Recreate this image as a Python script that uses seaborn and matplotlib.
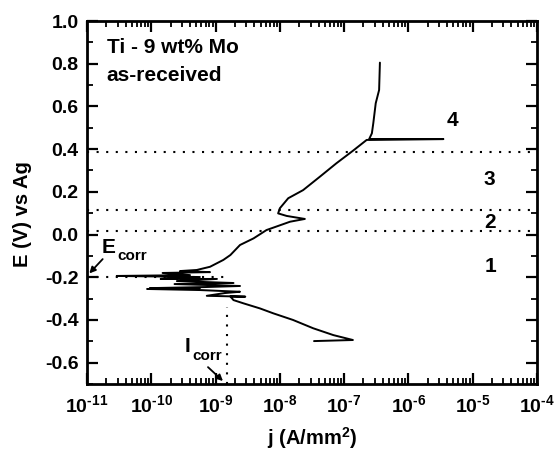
import numpy as np
import pandas as pd
import matplotlib
matplotlib.use("Agg")
import matplotlib.pyplot as plt
import seaborn as sns
from matplotlib.ticker import FixedLocator, FixedFormatter, LogLocator, MultipleLocator, NullFormatter

# ---------------- data ----------------
# polarisation curve, in scan order: current density j (A/mm^2) and potential E (V vs Ag)
j_values = [3.4e-8, 1.37e-7, 6.8e-8, 3.3e-8, 1.6e-8, 7.9e-9, 4.9e-9, 2.7e-9, 1.9e-9, 1.7e-9,
            2.9e-9, 7.3e-10, 1.4e-9, 2.4e-9, 5.7e-10, 8.6e-11, 5.7e-10, 9.5e-11, 6.8e-10, 2.4e-9,
            2.3e-10, 1.9e-9, 2.5e-10, 1.05e-9, 1.4e-10, 5.7e-10, 2.9e-11, 4.0e-10, 1.5e-10, 8.2e-10,
            2.8e-10, 5.1e-10, 8.2e-10, 1.32e-9, 1.7e-9, 2.4e-9, 3.9e-9, 6.2e-9, 1.44e-8, 2.45e-8,
            1.28e-8, 9.4e-9, 1.0e-8, 1.35e-8, 2.3e-8, 4.2e-8, 7.6e-8, 1.38e-7, 2.24e-7, 3.5e-6,
            2.45e-7, 2.7e-7, 2.84e-7, 3.1e-7, 3.5e-7, 3.6e-7]
E_values = [-0.499, -0.494, -0.471, -0.439, -0.400, -0.369, -0.346, -0.322, -0.307, -0.290,
            -0.291, -0.287, -0.274, -0.268, -0.260, -0.255, -0.251, -0.251, -0.246, -0.241,
            -0.232, -0.227, -0.218, -0.208, -0.208, -0.199, -0.194, -0.190, -0.180, -0.176,
            -0.171, -0.166, -0.151, -0.119, -0.096, -0.049, -0.018, 0.021, 0.060, 0.073,
            0.087, 0.099, 0.123, 0.170, 0.208, 0.271, 0.334, 0.393, 0.443, 0.447,
            0.447, 0.474, 0.521, 0.615, 0.677, 0.805]

region_boundaries = [0.385, 0.115, 0.015]   # V, dotted horizontal lines
region_labels = ["1", "2", "3", "4"]
E_corr = -0.198      # V
I_corr = 1.5e-9      # A/mm^2

x_tick_exponents = [-11, -10, -9, -8, -7, -6, -5, -4]
y_tick_values = [-0.6, -0.4, -0.2, 0.0, 0.2, 0.4, 0.6, 0.8, 1.0]
y_tick_labels = ["-0.6", "-0.4", "-0.2", "0.0", "0.2", "0.4", "0.6", "0.8", "1.0"]

title_lines = ["Ti - 9 wt% Mo", "as-received"]
x_label = "j (A/mm$^\\mathbf{2}$)"
y_label = "E (V) vs Ag"

# ---------------- style ----------------
sns.set_theme(style="ticks")
plt.rcParams["font.family"] = ["Liberation Sans", "DejaVu Sans"]
plt.rcParams["font.weight"] = "bold"
plt.rcParams["mathtext.fontset"] = "custom"
plt.rcParams["mathtext.rm"] = "Liberation Sans:bold"
plt.rcParams["mathtext.bf"] = "Liberation Sans:bold"
plt.rcParams["mathtext.it"] = "Liberation Sans:bold"
plt.rcParams["axes.unicode_minus"] = False
plt.rcParams["text.color"] = "black"
plt.rcParams["axes.labelcolor"] = "black"
plt.rcParams["xtick.color"] = "black"
plt.rcParams["ytick.color"] = "black"

fig = plt.figure(figsize=(5.54, 4.51), dpi=100, facecolor="white")
ax = fig.add_axes([87 / 554, 1 - 384 / 451, 450 / 554, 363 / 451])
ax.set_facecolor("white")

df = pd.DataFrame({"j": j_values, "E": E_values, "order": np.arange(len(j_values))})
sns.lineplot(data=df, x="j", y="E", sort=False, estimator=None, color="black",
             linewidth=1.4, ax=ax)

ax.set_xscale("log")
ax.set_xlim(1e-11, 1e-4)
ax.set_ylim(-0.7, 1.0)

dot = (0, (1, 3.6))
for yb in region_boundaries:
    ax.axhline(yb, color="black", lw=1.5, linestyle=dot)
# E_corr and I_corr guide lines
ax.plot([1e-11, 10 ** -8.85], [E_corr, E_corr], color="black", lw=1.5, linestyle=dot)
ax.plot([I_corr, I_corr], [-0.7, -0.34], color="black", lw=1.5, linestyle=dot)

# ticks
ax.xaxis.set_major_locator(FixedLocator([10.0 ** e for e in x_tick_exponents]))
ax.xaxis.set_major_formatter(FixedFormatter(["$\\mathbf{10^{\\text{-}%d}}$" % (-e) for e in x_tick_exponents]))
ax.xaxis.set_minor_locator(LogLocator(base=10, subs=np.arange(2, 10), numticks=20))
ax.xaxis.set_minor_formatter(NullFormatter())
ax.yaxis.set_major_locator(FixedLocator(y_tick_values))
ax.yaxis.set_major_formatter(FixedFormatter(y_tick_labels))
ax.yaxis.set_minor_locator(MultipleLocator(0.1))

ax.tick_params(which="both", direction="in", top=True, right=True, color="black")
ax.tick_params(which="major", length=8, width=1.6, labelsize=14, pad=6, labelcolor="black")
ax.tick_params(axis="x", which="major", labelsize=14, pad=7)
ax.tick_params(which="minor", length=4.5, width=1.3)
for lab in ax.get_yticklabels():
    lab.set_fontweight("bold")
for s in ax.spines.values():
    s.set_linewidth(2.0)
    s.set_color("black")
    s.set_visible(True)

ax.set_xlabel(x_label, fontsize=14.5, fontweight="bold", color="black")
ax.set_ylabel(y_label, fontsize=14.5, fontweight="bold", color="black")
ax.xaxis.set_label_coords(0.5, -0.112)
ax.yaxis.set_label_coords(-0.122, 0.467)

# annotations
ax.text(0.044, 1 - (53 - 21) / 363, title_lines[0], transform=ax.transAxes, fontsize=15,
        fontweight="bold", va="baseline", ha="left", color="black")
ax.text(0.044, 1 - (81 - 21) / 363, title_lines[1], transform=ax.transAxes, fontsize=15,
        fontweight="bold", va="baseline", ha="left", color="black")

label_pos = [(10 ** -4.73, -0.152), (10 ** -4.725, 0.056), (10 ** -4.74, 0.26), (10 ** -5.32, 0.536)]
for txt, (xx, yy) in zip(region_labels, label_pos):
    ax.text(xx, yy, txt, fontsize=15, fontweight="bold", ha="center", va="center", color="black")

ax.text(10 ** -10.77, -0.087, "E", fontsize=15, fontweight="bold", ha="left", va="baseline", color="black")
ax.text(10 ** -10.53, -0.119, "corr", fontsize=11, fontweight="bold", ha="left", va="baseline", color="black")
ax.text(10 ** -9.476, -0.55, "I", fontsize=15, fontweight="bold", ha="left", va="baseline", color="black")
ax.text(10 ** -9.367, -0.588, "corr", fontsize=11, fontweight="bold", ha="left", va="baseline", color="black")

arrow = dict(arrowstyle="-|>", lw=1.3, color="black", mutation_scale=9, shrinkA=0, shrinkB=0)
ax.annotate("", xy=(10 ** -10.964, -0.182), xytext=(10 ** -10.756, -0.115), arrowprops=arrow)
ax.annotate("", xy=(10 ** -8.885, -0.686), xytext=(10 ** -9.118, -0.621), arrowprops=arrow)

fig.savefig("out.png", dpi=100, facecolor="white")
